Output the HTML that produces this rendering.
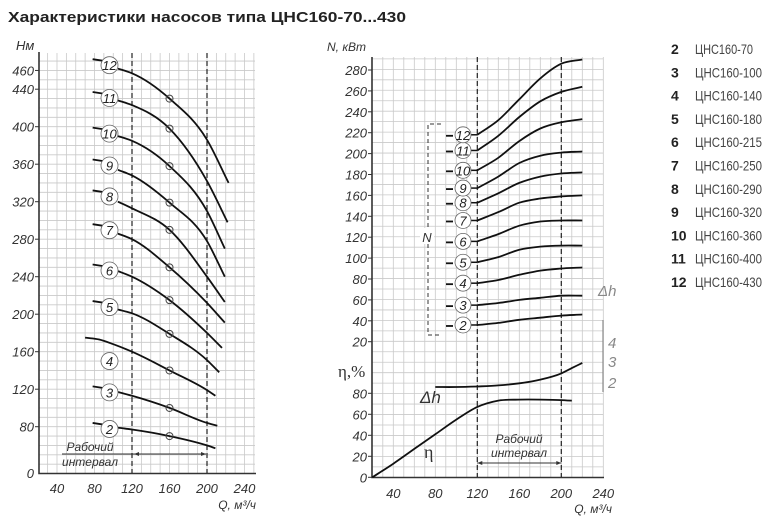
<!DOCTYPE html>
<html><head><meta charset="utf-8"><style>
html,body{margin:0;padding:0;background:#fff;}
svg{display:block;font-family:"Liberation Sans","DejaVu Sans",sans-serif;}
</style></head><body>
<svg id="chart" width="775" height="526" viewBox="0 0 775 526" xmlns="http://www.w3.org/2000/svg">
<text x="8" y="22" font-size="15" font-weight="bold" textLength="398" lengthAdjust="spacingAndGlyphs" fill="#222">Характеристики насосов типа ЦНС160-70...430</text>
<g id="left"></g>
<g id="right"></g>
<g id="legend"></g>
</svg>
<script>
// ---- data ----
const pumpIds = [2,3,4,5,6,7,8,9,10,11,12];
const pumpNames = ["ЦНС160-70","ЦНС160-100","ЦНС160-140","ЦНС160-180","ЦНС160-215","ЦНС160-250","ЦНС160-290","ЦНС160-320","ЦНС160-360","ЦНС160-400","ЦНС160-430"];
const headCurves = [
 [[105,79],[120,77],[160,70],[200,60],[209,57]],
 [[105,117],[120,113],[160,100],[200,84],[211,81]],
 [[70,175],[85,173],[100,168],[120,160],[160,140],[200,119],[209,113]],
 [[105,205],[120,201],[160,179],[200,151],[213,138]],
 [[105,246],[120,240],[160,215],[200,180],[216,164]],
 [[105,286],[120,280],[160,250],[200,212],[219,191]],
 [[105,320],[120,313],[160,290],[200,240],[219,213]],
 [[105,354],[120,348],[160,319],[200,278],[219,240]],
 [[105,390],[120,385],[160,358],[200,310],[219,270]],
 [[105,428],[120,423],[160,398],[200,342],[222,298]],
 [[105,462],[120,457],[160,430],[200,386],[223,340]]
];
const headStub = [84,123,null,214,253,296,332,365,399,437,472];
const headMarkers = [70,100,140,179,215,250,290,319,358,398,430];
const powerQ = [120,140,160,180,200,220];
const power2 = [36,38,41,43,45,46];
const power3 = [55,57,60,62,64,64];
const power4 = [76,79,84,88,90,91];
const power5 = [96,101,108,111,112,112];
const power6 = [116,123,131,135,136,136];
const power7 = [136,144,153,157,159,160];
const power8 = [153,162,172,178,181,182];
const power9 = [167,178,191,198,201,202];
const power10 = [184,196,212,224,230,233];
const power11 = [203,217,235,250,259,264];
const power12 = [218,232,252,272,286,290];
const powerSeries = [power2,power3,power4,power5,power6,power7,power8,power9,power10,power11,power12];
const etaQ = [20,40,60,80,100,120,140,160,180,200,210];
const etaVals = [0,13,27,41,55,67,73,74,74,73.5,73];
const dhQ = [80,100,120,140,160,180,200,210,220];
const dhVals = [86,86,86.5,87.5,89.5,93,99,104,109];
const xTicks = [40,80,120,160,200,240];
const leftYTicks = [80,120,160,200,240,280,320,360,400,440,460];
const nTicks = [20,40,60,80,100,120,140,160,180,200,220,240,260,280];
const etaTicks = [0,20,40,60,80];

// ---- scales ----
const lx = q => 38.25 + (q-20)*0.9375;
const ly = h => 426.7 - (h-80)*0.9375;
const rx = q => 372.3 + (q-20)*1.05;
const rN = n => 70 + (280-n)*1.045;
const rE = e => 477.3 - e*1.05;
const NS = "http://www.w3.org/2000/svg";
function mk(parent, tag, attrs, text){
  const e = document.createElementNS(NS, tag);
  for (const k in attrs) e.setAttribute(k, attrs[k]);
  if (text !== undefined) e.textContent = text;
  parent.appendChild(e); return e;
}
function smooth(pts){
  const n = pts.length;
  const sec = [];
  for (let i=0;i<n-1;i++) sec.push((pts[i+1][1]-pts[i][1])/(pts[i+1][0]-pts[i][0]));
  const m = [];
  for (let i=0;i<n;i++){
    if (i===0) m.push(sec[0]);
    else if (i===n-1) m.push(sec[n-2]);
    else {
      const h0 = pts[i][0]-pts[i-1][0], h1 = pts[i+1][0]-pts[i][0];
      m.push((sec[i-1]*h1 + sec[i]*h0)/(h0+h1));
    }
  }
  let d = "M"+pts[0][0].toFixed(1)+","+pts[0][1].toFixed(1);
  for (let i=0;i<n-1;i++){
    const h = (pts[i+1][0]-pts[i][0])/3;
    d += " C"+(pts[i][0]+h).toFixed(1)+","+(pts[i][1]+m[i]*h).toFixed(1)+" "+(pts[i+1][0]-h).toFixed(1)+","+(pts[i+1][1]-m[i+1]*h).toFixed(1)+" "+pts[i+1][0].toFixed(1)+","+pts[i+1][1].toFixed(1);
  }
  return d;
}
const L = document.getElementById("left");
const R = document.getElementById("right");
const G = document.getElementById("legend");

// ---- left grid ----
const lg = mk(L,"g",{stroke:"#c9c9c9","stroke-width":"0.8"});


for (let q=30;q<=250;q+=10) mk(lg,"line",{x1:lx(q),x2:lx(q),y1:53,y2:473});
for (let h=40;h<=470;h+=10) mk(lg,"line",{x1:39,x2:255,y1:ly(h),y2:ly(h)});
const la = mk(L,"path",{d:"M39,52 V473.5 H256",fill:"none",stroke:"#333","stroke-width":"1.6"});


[120,200].forEach(q=>{
  const d = mk(L,"line",{x1:lx(q),x2:lx(q),y1:53,y2:473,stroke:"#222","stroke-width":"1.2","stroke-dasharray":"5,3"});
  
  
});
leftYTicks.forEach(h=>{
  mk(L,"line",{x1:35,x2:39,y1:ly(h),y2:ly(h),stroke:"#333","stroke-width":"1"});
  const t = mk(L,"text",{x:34,y:ly(h)+5,"text-anchor":"end","font-size":"13","font-style":"italic",fill:"#333"},String(h));
  
  
});
{const t=mk(L,"text",{x:34,y:478,"text-anchor":"end","font-size":"13","font-style":"italic",fill:"#333"},"0");

}
xTicks.forEach(q=>{
  const t = mk(L,"text",{x:lx(q),y:493,"text-anchor":"middle","font-size":"13","font-style":"italic",fill:"#333"},String(q));
  
  
});
{const t=mk(L,"text",{x:16,y:50,"font-size":"13","font-style":"italic",fill:"#333"},"Hм");


const t2=mk(L,"text",{x:256,y:509,"text-anchor":"end","font-size":"12","font-style":"italic",fill:"#333"},"Q, м³/ч");

}
headCurves.forEach((c,i)=>{
  const p = mk(L,"path",{d:smooth(c.map(v=>[lx(v[0]),ly(v[1])])),fill:"none",stroke:"#111","stroke-width":"1.8"});
  
  
  const m = mk(L,"circle",{cx:lx(160),cy:ly(headMarkers[i]),r:3.5,fill:"none",stroke:"#444","stroke-width":"1"});
  
  
  let cyL;
  if (headStub[i]!==null){
    mk(L,"line",{x1:lx(78),x2:lx(92),y1:ly(headStub[i]),y2:ly(headStub[i])+2,stroke:"#111","stroke-width":"1.8"});
    cyL = ly(headStub[i])+6;
  } else cyL = ly(150);
  const cc = mk(L,"circle",{cx:lx(96),cy:cyL,r:8.5,fill:"#fff",stroke:"#666","stroke-width":"0.8"});
  
  
  const t = mk(L,"text",{x:lx(96),y:cyL+5,"text-anchor":"middle","font-size":"13","font-style":"italic",fill:"#222"},String(pumpIds[i]));
  
  
});
{
 const g = mk(L,"g",{});
 
 
 mk(g,"text",{x:90,y:451,"text-anchor":"middle","font-size":"12","font-style":"italic",fill:"#333"},"Рабочий");
 mk(g,"text",{x:90,y:466,"text-anchor":"middle","font-size":"12","font-style":"italic",fill:"#333"},"интервал");
 mk(g,"line",{x1:62,x2:206,y1:454,y2:454,stroke:"#333","stroke-width":"0.9"});
 mk(g,"path",{d:"M134,454 l5,-2 v4z M206,454 l-5,-2 v4z",fill:"#333"});
}

// ---- right grid ----
const rg = mk(R,"g",{stroke:"#c9c9c9","stroke-width":"0.8"});


for (let q=30;q<=240;q+=10) mk(rg,"line",{x1:rx(q),x2:rx(q),y1:57,y2:477});
for (let k=1;k<=40;k++) mk(rg,"line",{x1:372,x2:603,y1:477.3-k*10.46,y2:477.3-k*10.46});
const ra = mk(R,"path",{d:"M372,57 V477.5 H604",fill:"none",stroke:"#333","stroke-width":"1.6"});


[120,200].forEach(q=>{
  const d = mk(R,"line",{x1:rx(q),x2:rx(q),y1:57,y2:477,stroke:"#222","stroke-width":"1.2","stroke-dasharray":"5,3"});
  
  
});
nTicks.forEach(n=>{
  mk(R,"line",{x1:368,x2:372,y1:rN(n),y2:rN(n),stroke:"#333","stroke-width":"1"});
  const t = mk(R,"text",{x:367,y:rN(n)+5,"text-anchor":"end","font-size":"13","font-style":"italic",fill:"#333"},String(n));
  
  
});
etaTicks.forEach(e=>{
  mk(R,"line",{x1:368,x2:372,y1:rE(e),y2:rE(e),stroke:"#333","stroke-width":"1"});
  const t = mk(R,"text",{x:367,y:rE(e)+5,"text-anchor":"end","font-size":"13","font-style":"italic",fill:"#333"},String(e));
  
  
});
xTicks.forEach(q=>{
  const t = mk(R,"text",{x:rx(q),y:498,"text-anchor":"middle","font-size":"13","font-style":"italic",fill:"#333"},String(q));
  
  
});
{
 const t=mk(R,"text",{x:327,y:51,"font-size":"12","font-style":"italic",fill:"#333"},"N, кВт");
 
 
 const t2=mk(R,"text",{x:612,y:513,"text-anchor":"end","font-size":"12","font-style":"italic",fill:"#333"},"Q, м³/ч");
 
 
 const t3=mk(R,"text",{x:338,y:377,"font-size":"17",fill:"#333","font-family":"Liberation Serif, serif"},"η,%");
 
 
}
// N bracket
{
 const b = mk(R,"path",{d:"M441,124 H428 V335 H441",fill:"none",stroke:"#333","stroke-width":"1","stroke-dasharray":"4,3"});
 
 
 mk(R,"rect",{x:420,y:228,width:14,height:16,fill:"#fff"});
 const t = mk(R,"text",{x:427,y:242,"text-anchor":"middle","font-size":"13","font-style":"italic",fill:"#333"},"N");
 
 
}
powerSeries.forEach((s,i)=>{
  const pts = s.map((v,j)=>[rx(powerQ[j]),rN(v)]);
  const p = mk(R,"path",{d:smooth(pts),fill:"none",stroke:"#111","stroke-width":"1.8"});
  
  
  const cy = rN(s[0]);
  mk(R,"line",{x1:446,x2:453,y1:cy+1,y2:cy+1,stroke:"#111","stroke-width":"1.8"});
  mk(R,"line",{x1:470,x2:rx(120),y1:cy,y2:cy,stroke:"#111","stroke-width":"1.5"});
  const cc = mk(R,"circle",{cx:463,cy:cy,r:8,fill:"#fff",stroke:"#666","stroke-width":"0.8"});
  
  
  const t = mk(R,"text",{x:463,y:cy+5,"text-anchor":"middle","font-size":"13","font-style":"italic",fill:"#222"},String(pumpIds[i]));
  
  
});
{
 const e = mk(R,"path",{d:smooth(etaQ.map((q,j)=>[rx(q),rE(etaVals[j])])),fill:"none",stroke:"#111","stroke-width":"1.8"});
 
 
 const d = mk(R,"path",{d:smooth(dhQ.map((q,j)=>[rx(q),rE(dhVals[j])])),fill:"none",stroke:"#111","stroke-width":"1.8"});
 
 
 const t1 = mk(R,"text",{x:420,y:403,"font-size":"17",fill:"#333","font-style":"italic"},"Δh");
 
 
 const t2 = mk(R,"text",{x:424,y:458,"font-size":"18",fill:"#333","font-family":"Liberation Serif, serif"},"η");
 
 
 const g = mk(R,"g",{});
 
 
 mk(g,"text",{x:519,y:443,"text-anchor":"middle","font-size":"12","font-style":"italic",fill:"#333"},"Рабочий");
 mk(g,"text",{x:519,y:457,"text-anchor":"middle","font-size":"12","font-style":"italic",fill:"#333"},"интервал");
 mk(g,"line",{x1:rx(120),x2:rx(200),y1:463,y2:463,stroke:"#333","stroke-width":"0.9"});
 mk(g,"path",{d:`M${rx(120)},463 l5,-2 v4z M${rx(200)},463 l-5,-2 v4z`,fill:"#333"});
 const s = mk(R,"g",{fill:"#888","font-size":"15","font-style":"italic"});
 
 
 mk(s,"text",{x:598,y:296},"Δh");
 mk(s,"line",{x1:603,x2:603,y1:320,y2:392,stroke:"#888","stroke-width":"1.2"});
 mk(s,"text",{x:608,y:348},"4");
 mk(s,"text",{x:608,y:367},"3");
 mk(s,"text",{x:608,y:388},"2");
}
// ---- legend ----
pumpIds.forEach((id,i)=>{
  const y = 54 + i*23.3;
  const n = mk(G,"text",{x:671,y:y,"font-size":"14","font-weight":"bold",fill:"#222"},String(id));
  
  
  const t = mk(G,"text",{x:695,y:y,"font-size":"14",fill:"#444",textLength:(pumpNames[i].length>9?67:58),lengthAdjust:"spacingAndGlyphs"},pumpNames[i]);
  
  
});
</script>
</body></html>
